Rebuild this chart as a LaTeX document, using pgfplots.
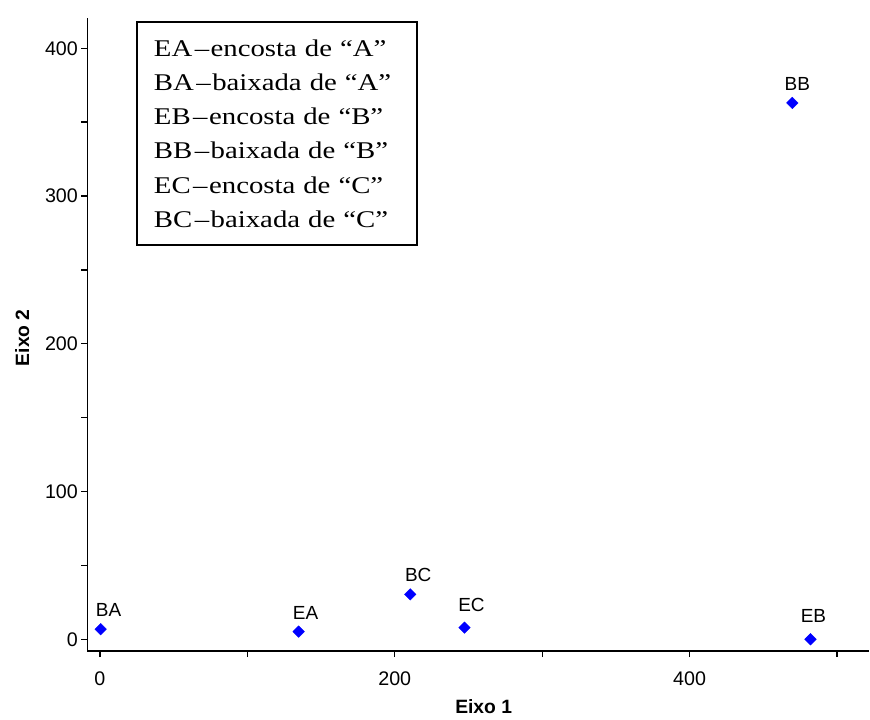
\documentclass[border=0pt]{standalone}
\usepackage{pgfplots}
\pgfplotsset{compat=1.18}
\usepackage{pgfplotstable}
\usepackage{fontspec}
\setmainfont{Liberation Sans}
\newfontfamily\serif{Liberation Serif}[FakeStretch=1.2]
\pgfplotstableread{
x y dx dy label
0.5 6.8 8 13 BA
134.8 5.2 7 12 EA
210.5 30.4 8 13 BC
247.3 7.9 7 16 EC
482 0 3 17 EB
469.7 363 5 12 BB
}\pts
\newcommand{\legline}[3]{\mbox{#1\kern2.5pt–\kern1.5pt #2 de “#3”}}
\begin{document}
\begin{tikzpicture}
\begin{axis}[name=ax, scale only axis, width=782.5pt, height=634pt,
 xmin=-8.5, xmax=521.7, ymin=-8.1, ymax=420.5,
 axis lines*=left, axis line style={line width=1.6pt, black},
 tick align=outside, major tick length=6pt, tick style={line width=1.3pt, black},
 xtick={0,100,...,500}, xticklabels={0,,200,,400,},
 ytick={0,50,...,400}, yticklabels={0,,100,,200,,300,,400},
 /pgf/number format/assume math mode=true,
 ticklabel style={font=\fontsize{19.7}{23}\selectfont},
 xticklabel style={yshift=-10.5pt},
 xlabel={\textbf{Eixo 1}}, ylabel={\textbf{Eixo 2}},
 xlabel style={at={(axis description cs:0.507,-0.0978)}, anchor=base, inner sep=0pt, font=\fontsize{19.3}{23}\selectfont},
 ylabel style={at={(axis description cs:-0.0927,0.495)}, anchor=north, inner sep=0pt, font=\fontsize{19.3}{23}\selectfont},
 clip=false]
\addplot[only marks, mark=square*, mark size=4.1pt, color=blue,
 mark options={rotate=45, fill=blue, draw=blue},
 point meta=explicit symbolic, nodes near coords,
 visualization depends on={\thisrow{dx}\as\dx},
 visualization depends on={\thisrow{dy}\as\dy},
 every node near coord/.append style={anchor=base, inner sep=0pt, xshift=\dx pt, yshift=\dy pt, text=black, font=\fontsize{19}{22}\selectfont}]
 table[x=x,y=y,meta=label]{\pts};
\node[draw=black, line width=2.2pt, anchor=north west, inner xsep=17pt, inner ysep=17.5pt, text width=246pt, align=left, font=\serif\fontsize{24}{34.3}\selectfont] at (axis cs:24.4,418.5)
 {\legline{EA}{encosta}{A}\\\legline{BA}{baixada}{A}\\\legline{EB}{encosta}{B}\\\legline{BB}{baixada}{B}\\\legline{EC}{encosta}{C}\\\legline{BC}{baixada}{C}};
\end{axis}
\path (ax.south west) ++(-87.5pt,-68pt) coordinate (bl);
\path (ax.north east) ++(1pt,18pt) coordinate (tr);
\path (bl) rectangle (tr);
\end{tikzpicture}
\end{document}
